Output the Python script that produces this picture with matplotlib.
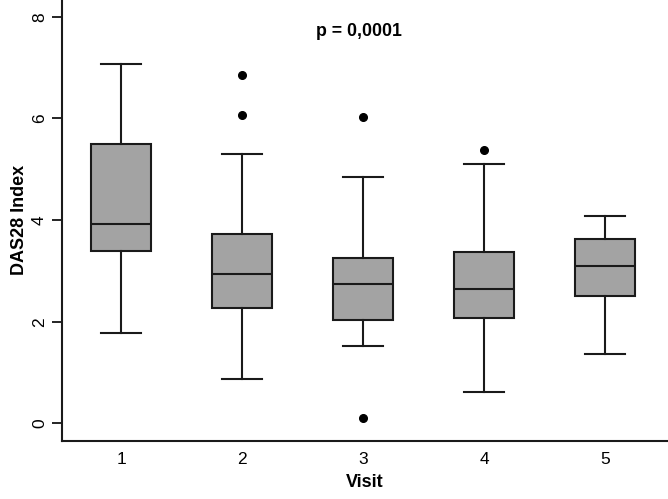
import numpy as np
import matplotlib
matplotlib.use('Agg')
from matplotlib import pyplot as plt

plt.rcParams['font.family'] = ['Liberation Sans', 'DejaVu Sans']

# Visit groups and box statistics
visits = [1, 2, 3, 4, 5]
whislo = [1.78, 0.87, 1.52, 0.62, 1.37]
q1 = [3.39, 2.28, 2.03, 2.08, 2.51]
med = [3.92, 2.94, 2.74, 2.64, 3.10]
q3 = [5.49, 3.72, 3.25, 3.38, 3.62]
whishi = [7.07, 5.31, 4.85, 5.10, 4.09]
fliers = [[], [6.86, 6.06], [6.02, 0.10], [5.38], []]

stats = []
for i in range(len(visits)):
    stats.append({'whislo': whislo[i], 'q1': q1[i], 'med': med[i],
                  'q3': q3[i], 'whishi': whishi[i], 'fliers': fliers[i]})

fig = plt.figure(figsize=(6.68, 4.99), dpi=100)
ax = fig.add_axes([0.0933, 0.1168, 0.9067, 0.8832])

lw = 1.5
ax.bxp(stats, positions=visits, widths=0.5, patch_artist=True,
       boxprops={'facecolor': '#a3a3a3', 'edgecolor': '#1a1a1a', 'linewidth': lw},
       medianprops={'color': '#1a1a1a', 'linewidth': lw},
       whiskerprops={'color': '#1a1a1a', 'linewidth': lw},
       capprops={'color': '#1a1a1a', 'linewidth': lw},
       capwidths=0.33,
       flierprops={'marker': 'o', 'markerfacecolor': 'black',
                   'markeredgecolor': 'black', 'markersize': 5.5})

ax.set_xlim(0.515, 5.52)
ax.set_ylim(-0.34, 8.33)

for s in ['top', 'right']:
    ax.spines[s].set_visible(False)
for s in ['left', 'bottom']:
    ax.spines[s].set_linewidth(1.5)
    ax.spines[s].set_color('#1a1a1a')

ax.set_yticks([0, 2, 4, 6, 8])
ax.set_xticks(visits)
ax.set_xticklabels([str(v) for v in visits])
ax.tick_params(axis='x', length=0, labelsize=12.5, pad=8)
ax.tick_params(axis='y', length=7, width=1.2, labelsize=12.5, pad=4)
for lab in ax.get_yticklabels():
    lab.set_rotation(90)
    lab.set_va('center')

ax.set_xlabel('Visit', fontsize=13, fontweight='bold', labelpad=5)
ax.set_ylabel('DAS28 Index', fontsize=13, fontweight='bold', labelpad=3)

ax.text(2.97, 7.71, 'p = 0,0001', fontsize=12.8, fontweight='bold',
        ha='center', va='center')

fig.savefig('out.png', dpi=100)
